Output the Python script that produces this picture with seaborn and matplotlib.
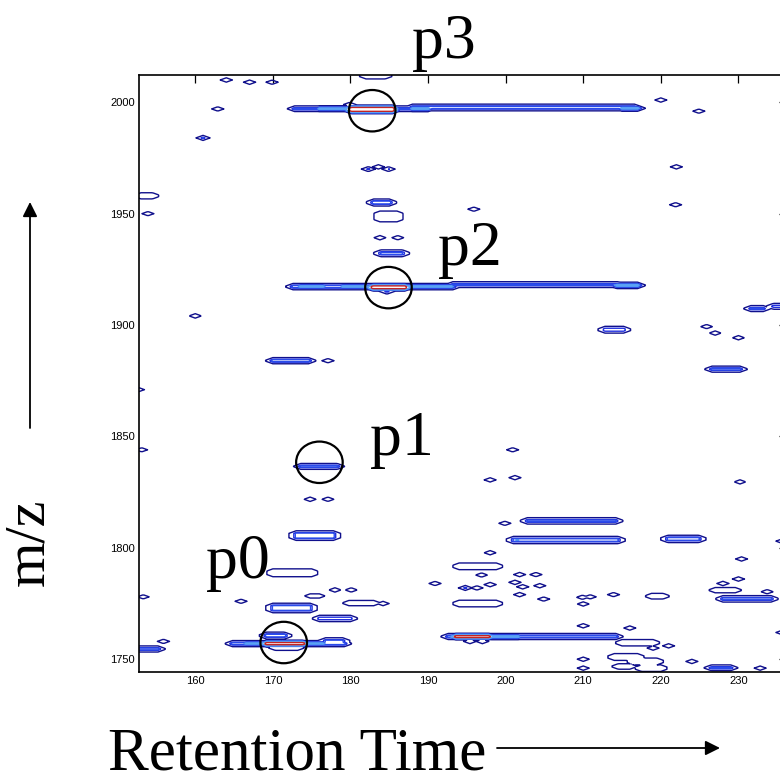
import numpy as np
import matplotlib
matplotlib.use("Agg")
import matplotlib.pyplot as plt
from matplotlib.patches import Ellipse
import seaborn as sns

# ---- isolated spots: retention time, m/z, intensity ----
spot_rt = [179.9, 164.0, 167.0, 169.9, 162.9, 161.0, 220.0, 224.9, 222.0, 221.9,
           195.9, 153.9, 182.3, 184.9, 183.6, 183.8, 186.1, 160.0, 152.8, 153.1,
           177.1, 184.7, 174.8, 177.1, 200.9, 198.0, 201.2, 230.2, 199.9, 201.5,
           178.0, 180.1, 165.9, 184.2, 153.3, 155.9, 198.0, 196.9, 201.8, 203.9,
           190.9, 194.8, 196.3, 198.0, 201.2, 202.2, 204.4, 201.8, 204.9, 209.9,
           210.9, 213.9, 210.0, 210.0, 216.0, 221.0, 219.0, 224.0, 210.0, 210.0,
           232.8, 228.0, 230.0, 233.7, 230.4, 235.6, 235.6, 195.4, 197.0, 225.9,
           227.0, 230.0]
spot_mz = [1999.0, 2010.0, 2009.0, 2009.0, 1997.0, 1984.0, 2001.0, 1996.0, 1971.0, 1954.0,
           1952.0, 1950.0, 1970.0, 1970.0, 1971.0, 1939.2, 1939.2, 1904.1, 1871.0, 1844.0,
           1884.0, 1915.0, 1821.8, 1821.8, 1844.0, 1830.5, 1831.5, 1829.6, 1811.0, 1803.5,
           1781.1, 1781.1, 1776.0, 1775.0, 1778.0, 1758.0, 1797.8, 1787.8, 1788.0, 1788.0,
           1784.0, 1782.0, 1782.0, 1783.5, 1784.5, 1782.5, 1783.0, 1779.0, 1777.0, 1777.8,
           1778.0, 1779.0, 1774.8, 1765.0, 1764.0, 1756.0, 1755.0, 1749.0, 1750.0, 1746.0,
           1746.0, 1784.0, 1786.0, 1780.3, 1795.0, 1803.0, 1762.0, 1758.0, 1758.0, 1899.3,
           1896.4, 1894.3]
spot_int = [2.9, 2.9, 2.9, 2.9, 2.9, 4.2, 2.8, 2.8, 2.8, 2.8,
            2.8, 2.8, 4.0, 3.6, 2.9, 2.9, 2.9, 3.0, 2.2, 2.7,
            2.9, 4.2, 2.9, 2.9, 2.8, 2.8, 2.8, 2.7, 2.8, 6.0,
            2.9, 2.9, 2.8, 2.9, 2.7, 2.9, 2.8, 2.8, 2.8, 2.8,
            2.8, 4.0, 2.9, 2.9, 2.9, 2.9, 2.8, 2.8, 2.8, 2.8,
            2.8, 2.8, 2.8, 2.8, 2.8, 2.8, 2.8, 2.8, 2.8, 2.8,
            2.8, 2.9, 2.9, 2.9, 2.8, 2.8, 2.8, 3.2, 3.2, 2.8,
            2.8, 2.8]

# ---- extended ridges: RT range, m/z range, intensity ----
ridge_rt0 = [172.8, 188.0, 176.0, 188.0, 215.0, 180.1, 182.0,
             172.6, 193.2, 173.5, 179.0, 187.5, 214.3, 182.9,
             173.6,
             164.8, 169.2, 166.5, 174.5, 169.2, 176.8, 170.3, 152.0,
             192.6, 193.6, 198.2,
             202.8, 201.0, 220.9,
             170.0, 173.0, 170.0, 174.8, 170.0, 179.8, 176.0,
             194.0, 194.0, 218.8, 215.0,
             214.0, 216.5, 214.5, 217.5, 226.5,
             227.0, 228.0,
             212.8, 226.6, 231.6, 234.5,
             153.0, 183.0, 183.8, 183.9]
ridge_rt1 = [188.0, 216.6, 179.5, 190.0, 217.0, 185.4, 184.5,
             193.2, 214.5, 176.5, 182.0, 193.0, 217.0, 187.0,
             178.3,
             179.2, 173.9, 168.5, 176.5, 171.5, 179.0, 173.2, 155.2,
             214.2, 197.8, 201.6,
             214.2, 214.5, 224.9,
             174.6, 177.8, 175.0, 176.0, 174.8, 183.0, 180.0,
             198.8, 198.8, 220.3, 219.0,
             217.0, 219.5, 216.0, 220.0, 229.0,
             229.6, 234.2,
             215.2, 230.2, 233.2, 237.0,
             154.5, 185.0, 186.0, 186.7]
ridge_mz0 = [1997.0, 1997.3, 1997.0, 1997.0, 1997.2, 1996.2, 2011.5,
             1917.0, 1918.0, 1917.2, 1917.2, 1917.2, 1917.6, 1916.6,
             1836.4,
             1756.8, 1756.8, 1757.0, 1757.0, 1760.2, 1757.5, 1755.0, 1754.4,
             1760.0, 1760.0, 1760.0,
             1811.8, 1803.0, 1803.5,
             1883.8, 1804.5, 1788.0, 1778.4, 1772.0, 1775.0, 1768.0,
             1791.2, 1774.5, 1778.0, 1757.0,
             1750.5, 1748.5, 1746.5, 1745.5, 1746.0,
             1780.8, 1776.8,
             1897.5, 1880.0, 1907.2, 1908.2,
             1957.6, 1954.6, 1947.3, 1931.8]
ridge_mz1 = [1997.2, 1998.0, 1997.2, 1997.3, 1997.4, 1997.4, 2012.5,
             1917.5, 1918.3, 1917.4, 1917.4, 1917.4, 1918.0, 1917.3,
             1836.7,
             1757.2, 1757.2, 1757.1, 1757.1, 1761.0, 1758.5, 1755.2, 1754.8,
             1760.4, 1760.3, 1760.3,
             1812.4, 1804.0, 1804.5,
             1884.2, 1806.5, 1789.6, 1778.4, 1774.0, 1775.4, 1768.6,
             1792.2, 1775.5, 1778.6, 1757.8,
             1751.5, 1749.5, 1747.0, 1746.5, 1746.3,
             1781.2, 1777.4,
             1898.3, 1880.4, 1907.6, 1908.6,
             1958.4, 1955.4, 1950.2, 1932.6]
ridge_int = [4.6, 4.4, 6.0, 6.0, 6.0, 11.0, 3.2,
             4.7, 4.4, 6.0, 6.0, 6.0, 6.0, 11.0,
             4.6,
             4.7, 11.0, 6.0, 6.0, 4.6, 4.2, 3.2, 4.6,
             4.6, 11.0, 6.0,
             4.2, 4.2, 4.3,
             4.8, 4.4, 2.8, 2.7, 4.2, 2.9, 4.0,
             3.0, 2.9, 2.8, 3.2,
             3.2, 3.2, 2.9, 2.9, 4.3,
             2.9, 4.3,
             4.0, 4.5, 4.2, 4.0,
             2.9, 4.8, 2.8, 4.2]

# ---- peak annotations ----
peak_names = ["p0", "p1", "p2", "p3"]
peak_rt = [171.4, 176.0, 184.9, 182.8]
peak_mz = [1757.5, 1838.4, 1916.8, 1996.2]

# ---- contour levels and colours ----
levels = [1.0, 3.3, 4.0, 5.0, 5.6, 9.0]
level_colors = ["#10108C", "#1F2FE0", "#2A4CEA", "#4A90F0", "#5AA2F5", "#C42424"]

x_ticks = [160, 170, 180, 190, 200, 210, 220, 230]
y_ticks = [1750, 1800, 1850, 1900, 1950, 2000]

# ---- intensity map: pyramidal peaks on a fine RT x m/z grid ----
rt = np.arange(150.0, 238.0, 0.2)
mz = np.arange(1738.0, 2018.0, 0.25)
RT, MZ = np.meshgrid(rt, mz)
a_rt, b_mz = 1.2, 1.5

field = np.zeros_like(RT)
for r, m, h in zip(spot_rt, spot_mz, spot_int):
    g = h * np.clip(1 - np.abs(RT - r) / a_rt - np.abs(MZ - m) / b_mz, 0, None)
    field = np.maximum(field, g)
for r0, r1, m0, m1, h in zip(ridge_rt0, ridge_rt1, ridge_mz0, ridge_mz1, ridge_int):
    dx = np.maximum(0, np.maximum(r0 - RT, RT - r1))
    dy = np.maximum(0, np.maximum(m0 - MZ, MZ - m1))
    g = h * np.clip(1 - dx / a_rt - dy / b_mz, 0, None)
    field = np.maximum(field, g)

sns.set_theme(style="white")
plt.rcParams["font.family"] = ["Liberation Sans", "DejaVu Sans"]

fig = plt.figure(figsize=(7.8, 7.82), dpi=100)
W, H = 780.0, 782.0
ax = fig.add_axes([139 / W, 1 - 671.7 / H, (785 - 139) / W, (671.7 - 75.3) / H])

ax.contour(RT, MZ, field, levels=levels, colors=level_colors, linewidths=1.0)

ax.set_xlim(152.75, 236.0)
ax.set_ylim(1744.4, 2012.1)
ax.set_xticks(x_ticks)
ax.set_yticks(y_ticks)
ax.set_xticklabels([str(v) for v in x_ticks])
ax.set_yticklabels([str(v) for v in y_ticks])
ax.tick_params(axis="both", direction="in", top=True, right=True,
               labelsize=8, colors="black", width=0.9, pad=3)
ax.tick_params(axis="x", length=6)
ax.tick_params(axis="y", length=4)
for sp in ax.spines.values():
    sp.set_color("black")
    sp.set_linewidth(1.2)
ax.set_facecolor("white")

# circles marking the isotope peaks
for r, m in zip(peak_rt, peak_mz):
    ax.add_patch(Ellipse((r, m), width=6.0, height=18.6, fill=False,
                         edgecolor="black", linewidth=1.6, zorder=5))

serif = ["Liberation Serif", "DejaVu Serif"]
label_px = {"p0": (238, 577.7), "p1": (402, 454.7), "p2": (470, 265), "p3": (444, 58)}
for name in peak_names:
    px, py = label_px[name]
    fig.text(px / W, 1 - py / H, name, ha="center", va="baseline",
             fontsize=46, family=serif, color="black")

fig.text(108 / W, 1 - 769 / H, "Retention Time", ha="left", va="baseline",
         fontsize=44, family=serif, color="black")
fig.text(43 / W, 1 - 542 / H, "m/z", ha="center", va="baseline", rotation=90,
         rotation_mode="anchor", fontsize=42, family=serif, color="black")

ax.annotate("", xy=(720 / W, 1 - 748 / H), xytext=(497 / W, 1 - 748 / H),
            xycoords="figure fraction", textcoords="figure fraction",
            arrowprops=dict(arrowstyle="-|>", color="black", lw=1.3,
                            mutation_scale=22, shrinkA=0, shrinkB=0),
            annotation_clip=False)
ax.annotate("", xy=(30 / W, 1 - 202 / H), xytext=(30 / W, 1 - 428 / H),
            xycoords="figure fraction", textcoords="figure fraction",
            arrowprops=dict(arrowstyle="-|>", color="black", lw=1.3,
                            mutation_scale=22, shrinkA=0, shrinkB=0),
            annotation_clip=False)

fig.savefig("out.png", dpi=100, facecolor="white")
